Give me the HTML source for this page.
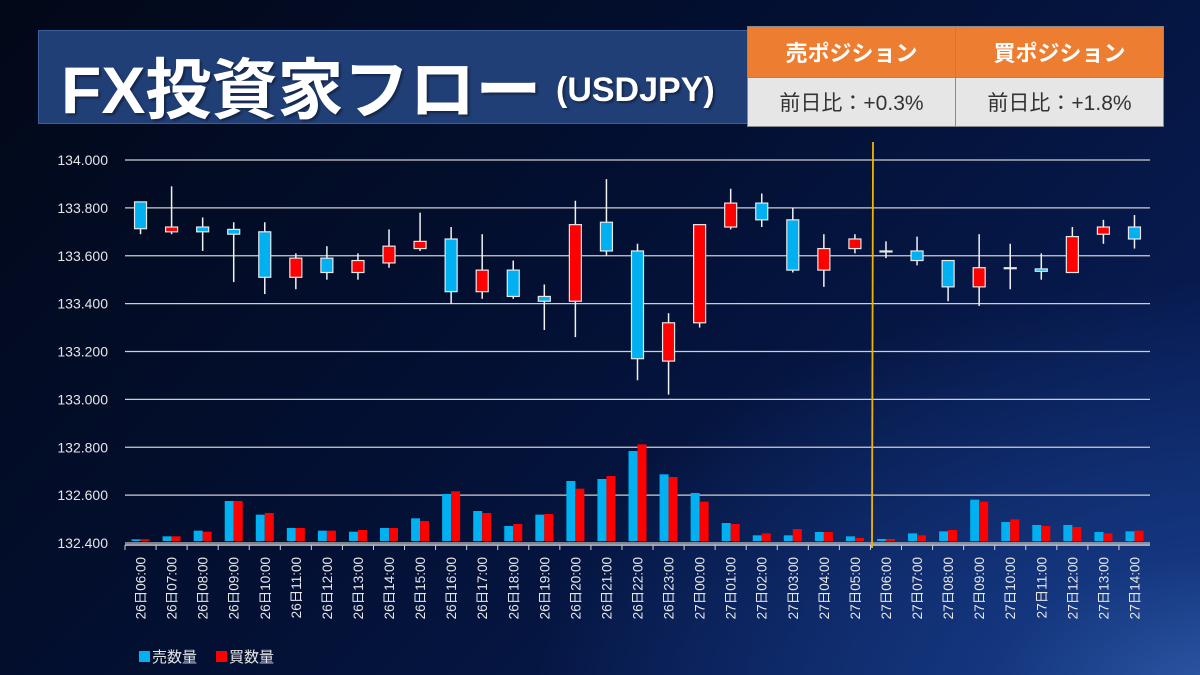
<!DOCTYPE html>
<html><head><meta charset="utf-8">
<style>
body{margin:0;width:1200px;height:675px;overflow:hidden;font-family:"Liberation Sans","Noto Sans CJK JP",sans-serif;}
#bg{position:absolute;left:0;top:0;width:1200px;height:675px;background:radial-gradient(ellipse 700px 420px at 1230px 700px,#2f5aa8 0%,#14367e 35%,rgba(10,30,80,0) 100%),linear-gradient(135deg,#020817 0%,#031033 45%,#0a2160 100%);}
#title{position:absolute;left:38px;top:30px;width:710px;height:94px;background:#213f77;border:1px solid #3a5f9a;box-sizing:border-box;}
#title span.main{position:absolute;left:22px;top:6px;font-size:66px;font-weight:bold;color:#fff;font-family:"Liberation Sans","Noto Sans CJK JP",sans-serif;letter-spacing:0px;text-shadow:2px 2px 2px rgba(0,0,0,0.4);white-space:nowrap;}
#title span.sub{position:absolute;left:517px;top:40px;font-size:34px;font-weight:bold;color:#fff;text-shadow:2px 2px 2px rgba(0,0,0,0.4);white-space:nowrap;}
table{position:absolute;left:747px;top:26px;border-collapse:collapse;width:417px;height:101px;}
td{border:1px solid #8a8a8a;text-align:center;width:50%;}
td.h{background:#ed7d31;color:#fff;font-weight:bold;font-size:22px;height:48px;}
td.v{background:#e7e6e6;color:#333;font-size:21px;}
svg{position:absolute;left:0;top:0;}
</style></head><body>
<div id="bg"></div>
<div id="title"><span class="main">FX投資家フロー</span><span class="sub">(USDJPY)</span></div>
<table>
<tr><td class="h">売ポジション</td><td class="h">買ポジション</td></tr>
<tr><td class="v">前日比：+0.3%</td><td class="v">前日比：+1.8%</td></tr>
</table>
<svg id="chart" width="1200" height="675"></svg>
<script>
const categories=["26日06:00","26日07:00","26日08:00","26日09:00","26日10:00","26日11:00","26日12:00","26日13:00","26日14:00","26日15:00","26日16:00","26日17:00","26日18:00","26日19:00","26日20:00","26日21:00","26日22:00","26日23:00","27日00:00","27日01:00","27日02:00","27日03:00","27日04:00","27日05:00","27日06:00","27日07:00","27日08:00","27日09:00","27日10:00","27日11:00","27日12:00","27日13:00","27日14:00"];
const openP=[133.825,133.70,133.72,133.71,133.70,133.51,133.59,133.53,133.57,133.63,133.67,133.45,133.54,133.43,133.41,133.74,133.62,133.16,133.32,133.72,133.82,133.75,133.54,133.63,133.62,133.62,133.58,133.47,133.55,133.545,133.53,133.69,133.72];
const closeP=[133.713,133.72,133.70,133.69,133.51,133.59,133.53,133.58,133.64,133.66,133.45,133.54,133.43,133.41,133.73,133.62,133.17,133.32,133.73,133.82,133.75,133.54,133.63,133.67,133.62,133.58,133.47,133.55,133.55,133.535,133.68,133.72,133.67];
const highP=[133.825,133.89,133.76,133.74,133.74,133.61,133.64,133.61,133.71,133.78,133.72,133.69,133.58,133.48,133.83,133.92,133.65,133.36,133.73,133.88,133.86,133.80,133.69,133.69,133.66,133.68,133.58,133.69,133.65,133.61,133.72,133.75,133.77];
const lowP=[133.69,133.69,133.62,133.49,133.44,133.46,133.50,133.50,133.55,133.62,133.40,133.42,133.42,133.29,133.26,133.60,133.08,133.02,133.30,133.71,133.72,133.53,133.47,133.61,133.59,133.56,133.41,133.39,133.46,133.50,133.53,133.65,133.63];
const sellVol=[5,14,31,120,79,39,31,28,39,68,141,90,45,79,180,186,270,200,144,54,17,17,27,14,6,23,29,124,57,48,48,27,29];
const buyVol=[5,14,28,120,84,39,31,33,39,60,149,84,51,81,157,195,290,192,118,51,23,36,27,9,6,17,33,118,65,45,42,23,31];
const yTicks=[134.0,133.8,133.6,133.4,133.2,133.0,132.8,132.6,132.4];

const NS="http://www.w3.org/2000/svg";
const svg=document.getElementById('chart');
const X0=125,X1=1150,Y0=160,Y1=543,PMAX=134.0,PMIN=132.4,VBASE=541,VSCALE=1/3;
const step=(X1-X0)/categories.length;
const xc=i=>X0+step*(i+0.5);
const yp=p=>Y0+(PMAX-p)/(PMAX-PMIN)*(Y1-Y0);
const vh=v=>v*VSCALE;
function mk(t,a){const e=document.createElementNS(NS,t);for(const k in a)e.setAttribute(k,a[k]);svg.appendChild(e);return e;}

yTicks.forEach((t,i)=>{
  const g=mk('line',{x1:X0,x2:X1,y1:yp(t),y2:yp(t),stroke:i==yTicks.length-1?'#c8c8c8':'#cfcfcf','stroke-width':1.2});
  
  
  const tx=mk('text',{x:108,y:yp(t)+5,'text-anchor':'end',fill:'#e6e6e6','font-size':14});
  tx.textContent=t.toFixed(3);
  
  
});
const ax=mk('line',{x1:X0,x2:X1,y1:545,y2:545,stroke:'#cfcfcf','stroke-width':1.5});


categories.forEach((c,i)=>{
  const tk=mk('line',{x1:X0+step*i,x2:X0+step*i,y1:545,y2:550,stroke:'#cfcfcf'});
  
  
  const x=xc(i)+5;
  const t=mk('text',{x:x,y:557,transform:`rotate(-90 ${x} 557)`,'text-anchor':'end',fill:'#e6e6e6','font-size':13.5});
  t.textContent=c;
  
  
});
categories.forEach((c,i)=>{
  const b=mk('rect',{x:xc(i)-9,y:VBASE-vh(sellVol[i]),width:9,height:vh(sellVol[i]),fill:'#00b0f0'});
  
  
  const r=mk('rect',{x:xc(i),y:VBASE-vh(buyVol[i]),width:9,height:vh(buyVol[i]),fill:'#ff0000'});
  
  
});
categories.forEach((c,i)=>{
  const x=xc(i);
  const w=mk('line',{x1:x,x2:x,y1:yp(highP[i]),y2:yp(lowP[i]),stroke:'#f2f2f2','stroke-width':1.5});
  
  
  const top=Math.min(yp(openP[i]),yp(closeP[i])),h=Math.abs(yp(openP[i])-yp(closeP[i]));
  const up=closeP[i]>openP[i];
  const b=mk('rect',{x:x-6,y:top,width:12,height:Math.max(h,1),fill:up?'#ff0000':'#00b0f0',stroke:'#e8e8e8','stroke-width':1.2});
  
  
});
const sep=mk('line',{x1:873,x2:872,y1:142,y2:548,stroke:'#f0b400','stroke-width':1.8});


const l1=mk('rect',{x:139,y:651,width:11,height:11,fill:'#00b0f0'});


const t1=mk('text',{x:152,y:662,fill:'#e6e6e6','font-size':15});
t1.textContent='売数量';


const l2=mk('rect',{x:216,y:651,width:11,height:11,fill:'#ff0000'});


const t2=mk('text',{x:229,y:662,fill:'#e6e6e6','font-size':15});
t2.textContent='買数量';


</script>
</body></html>
